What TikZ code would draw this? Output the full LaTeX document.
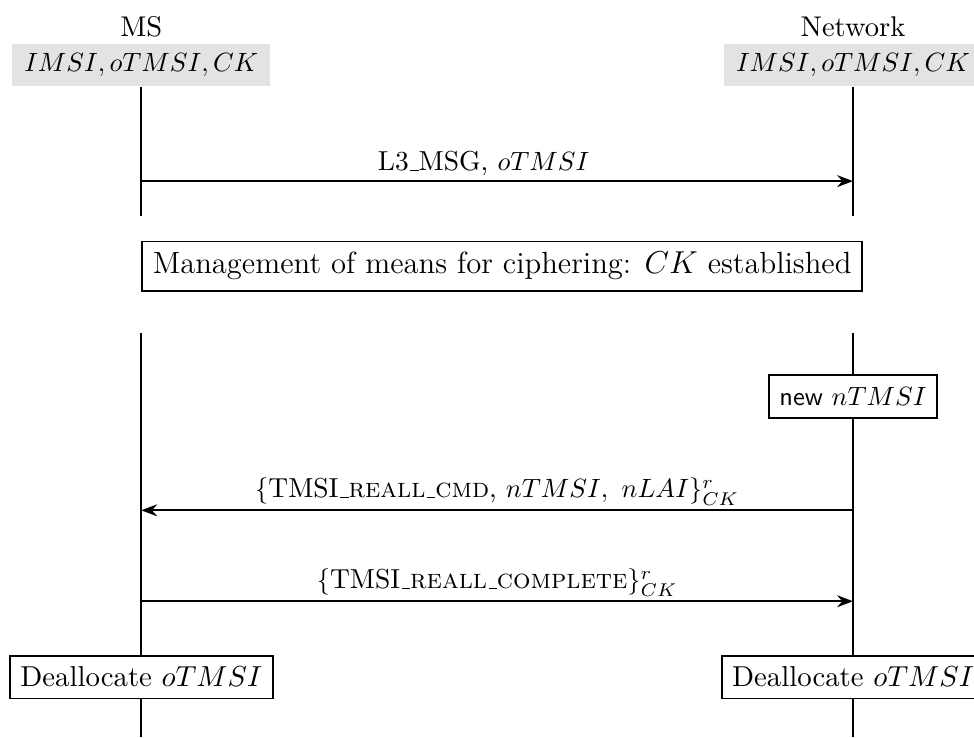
\documentclass[tikz,border=0pt]{standalone}
\usepackage{tikz}
\usetikzlibrary{arrows.meta}
\usepackage{amsmath}
\usepackage{amssymb}
\usepackage[rgb]{xcolor}
\definecolor{gy}{HTML}{E3E3E3}
\definecolor{fg}{HTML}{000000}

% short low bar, as in the old text fonts
\newcommand{\lowbar}{\leavevmode\kern.06em\vbox{\hrule width .3em}}

\tikzset{
  keys/.style = {fill=gy, inner sep=0pt, minimum height=0.56cm, minimum width=3.43cm},
  act/.style = {draw=fg, fill=white, line width=0.7pt, inner sep=4pt, minimum height=0.57cm},
  msg/.style = {draw=fg, line width=0.7pt, -{Stealth[length=6pt, width=4.5pt]}},
  life/.style = {draw=fg, line width=0.7pt},
  lbl/.style = {anchor = south, inner sep = 1.5pt, font=\fontsize{10.4}{12}\selectfont}
}

\begin{document}
\begin{tikzpicture}
  \useasboundingbox (0,0) rectangle (12.96,-9.81);

  % MS
  \node[font=\fontsize{10.8}{13}\selectfont] (ms) at (1.88,-0.36) {MS};
  \node[keys] (mskeys) at (1.88,-0.865) {$IMSI, oTMSI, CK$};

  % Network
  \node[font=\fontsize{10.8}{13}\selectfont] (net) at (11.35,-0.36) {Network};
  \node[keys] (netkeys) at (11.35,-0.865) {$IMSI, oTMSI, CK$};

  % Lifelines, first part
  \coordinate (a) at (1.88,-2.875);
  \coordinate (b) at (11.35,-2.875);
  \draw[life] (mskeys.south) -- (a);
  \draw[life] (netkeys.south) -- (b);

  % L3_MSG
  \coordinate (c) at (1.88,-2.41);
  \coordinate (d) at (11.35,-2.41);
  \draw[msg] (c) -- node[lbl, xshift = -0.18cm] {L3\lowbar MSG, $oTMSI$} (d);

  % Ciphering
  \node[act, anchor = west, font=\fontsize{11.6}{13.5}\selectfont] (ciph) at (1.88,-3.54) {Management of means for ciphering: $CK$ established};

  % Lifelines, second part
  \coordinate (e) at (1.88,-4.43);
  \coordinate (f) at (11.35,-4.43);
  \coordinate (g) at (1.88,-9.81);
  \coordinate (h) at (11.35,-9.81);
  \draw[life] (e) -- (g);
  \draw[life] (f) -- (h);

  % New TMSI
  \node[act] (newtmsi) at (11.35,-5.28) {\textsf{new} $nTMSI$};

  % Reallocation command
  \coordinate (i) at (11.35,-6.79);
  \coordinate (j) at (1.88,-6.79);
  \draw[msg] (i) -- node[lbl] {$\{$TMSI\lowbar\textsc{reall\lowbar cmd}, $nTMSI,~nLAI\}^r_{CK}$} (j);

  % Reallocation complete
  \coordinate (k) at (1.88,-8.0);
  \coordinate (l) at (11.35,-8.0);
  \draw[msg] (k) -- node[lbl] {$\{$TMSI\lowbar\textsc{reall\lowbar complete}$\}^r_{CK}$} (l);

  % Deallocate
  \node[act, font=\fontsize{10.9}{13}\selectfont] (msdealloc) at (1.88,-9.01) {Deallocate $oTMSI$};
  \node[act, font=\fontsize{10.9}{13}\selectfont] (netdealloc) at (11.35,-9.01) {Deallocate $oTMSI$};
\end{tikzpicture}
\end{document}
